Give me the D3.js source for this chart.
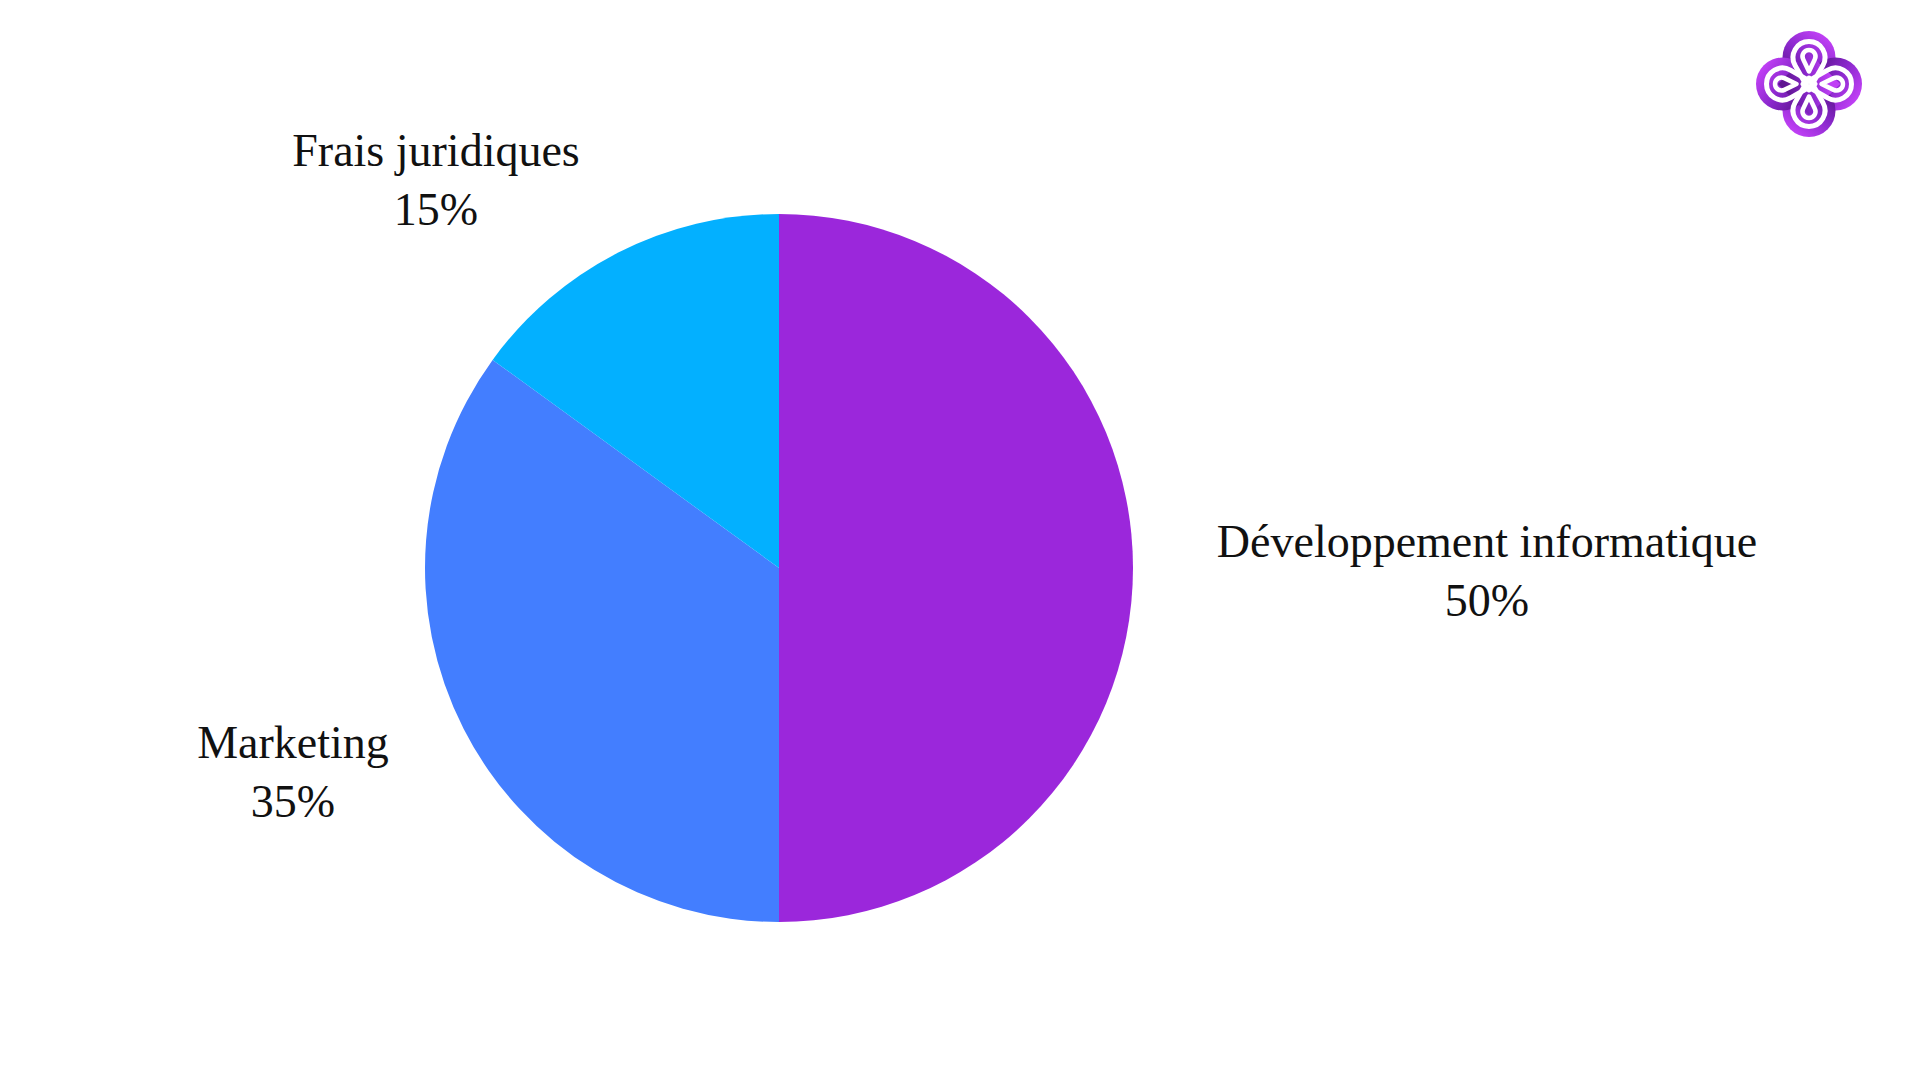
<!DOCTYPE html>
<html><head><meta charset="utf-8">
<script src="https://cdn.jsdelivr.net/npm/d3@7"></script>
<style>html,body{margin:0;padding:0;background:#fff;overflow:hidden}</style>
</head><body>
<svg id="chart" width="1920" height="1080"></svg>
<script>
const categories = ["Développement informatique", "Marketing", "Frais juridiques"];
const values = [50, 35, 15];
const colors = ["#9B27DB", "#437EFF", "#03B0FF"];
// label anchor positions (layout only), center of first line baseline
const labelPos = [[1487, 557], [293, 758], [436, 166]];

const svg = d3.select("#chart");
const cx = 779, cy = 568, R = 354;
const pie = d3.pie().sort(null).value(d => d)(values);
const arc = d3.arc().innerRadius(0).outerRadius(R);
const g = svg.append("g").attr("transform", `translate(${cx},${cy})`);
g.selectAll("path").data(pie).join("path")
  .attr("d", arc).attr("fill", (d, i) => colors[i]);

const font = "'Liberation Serif', 'Times New Roman', serif";
pie.forEach((d, i) => {
  const t = svg.append("text").attr("text-anchor", "middle")
    .attr("font-family", font).attr("font-size", 46).attr("fill", "#111");
  t.append("tspan").attr("x", labelPos[i][0]).attr("y", labelPos[i][1]).text(categories[i]);
  t.append("tspan").attr("x", labelPos[i][0]).attr("y", labelPos[i][1] + 59).text(values[i] + "%");
});

// logo
const defs = svg.append("defs");
const grad = defs.append("linearGradient").attr("id", "lg")
  .attr("x1", "0.8").attr("y1", "0.1").attr("x2", "0.2").attr("y2", "0.95");
grad.append("stop").attr("offset", "0").attr("stop-color", "#C040F5");
grad.append("stop").attr("offset", "0.5").attr("stop-color", "#8A28CC");
grad.append("stop").attr("offset", "1").attr("stop-color", "#5E1590");
const logo = svg.append("g").attr("transform", "translate(1809,84)");
const d = 26.5;
function tear(dist, r, apex) {
  const L = -dist, a = apex;
  const D = a - L, cosf = r / D, sinf = Math.sqrt(1 - cosf * cosf);
  const t1 = [-r * sinf, L + r * cosf], t2 = [r * sinf, L + r * cosf];
  return `M0,${a} L${t1[0]},${t1[1]} A${r},${r} 0 1 1 ${t2[0]},${t2[1]} Z`;
}
const shape = logo.append("g").attr("fill", "url(#lg)");
[0, 90, 180, 270].forEach(rot => {
  shape.append("circle").attr("cx", 0).attr("cy", -d).attr("r", 26.5)
    .attr("transform", `rotate(${rot})`);
});
shape.append("rect").attr("x", -22).attr("y", -22).attr("width", 44).attr("height", 44)
  .attr("transform", "rotate(45)");
[0, 90, 180, 270].forEach(rot => {
  logo.append("path").attr("d", tear(d, 16, 6)).attr("transform", `rotate(${rot})`)
    .attr("fill", "none").attr("stroke", "#fff").attr("stroke-width", 5).attr("stroke-linejoin", "round");
  logo.append("path").attr("d", tear(d + 1, 6.5, -d + 14)).attr("transform", `rotate(${rot})`)
    .attr("fill", "none").attr("stroke", "#fff").attr("stroke-width", 4.5).attr("stroke-linejoin", "round");
});
</script>
</body></html>
